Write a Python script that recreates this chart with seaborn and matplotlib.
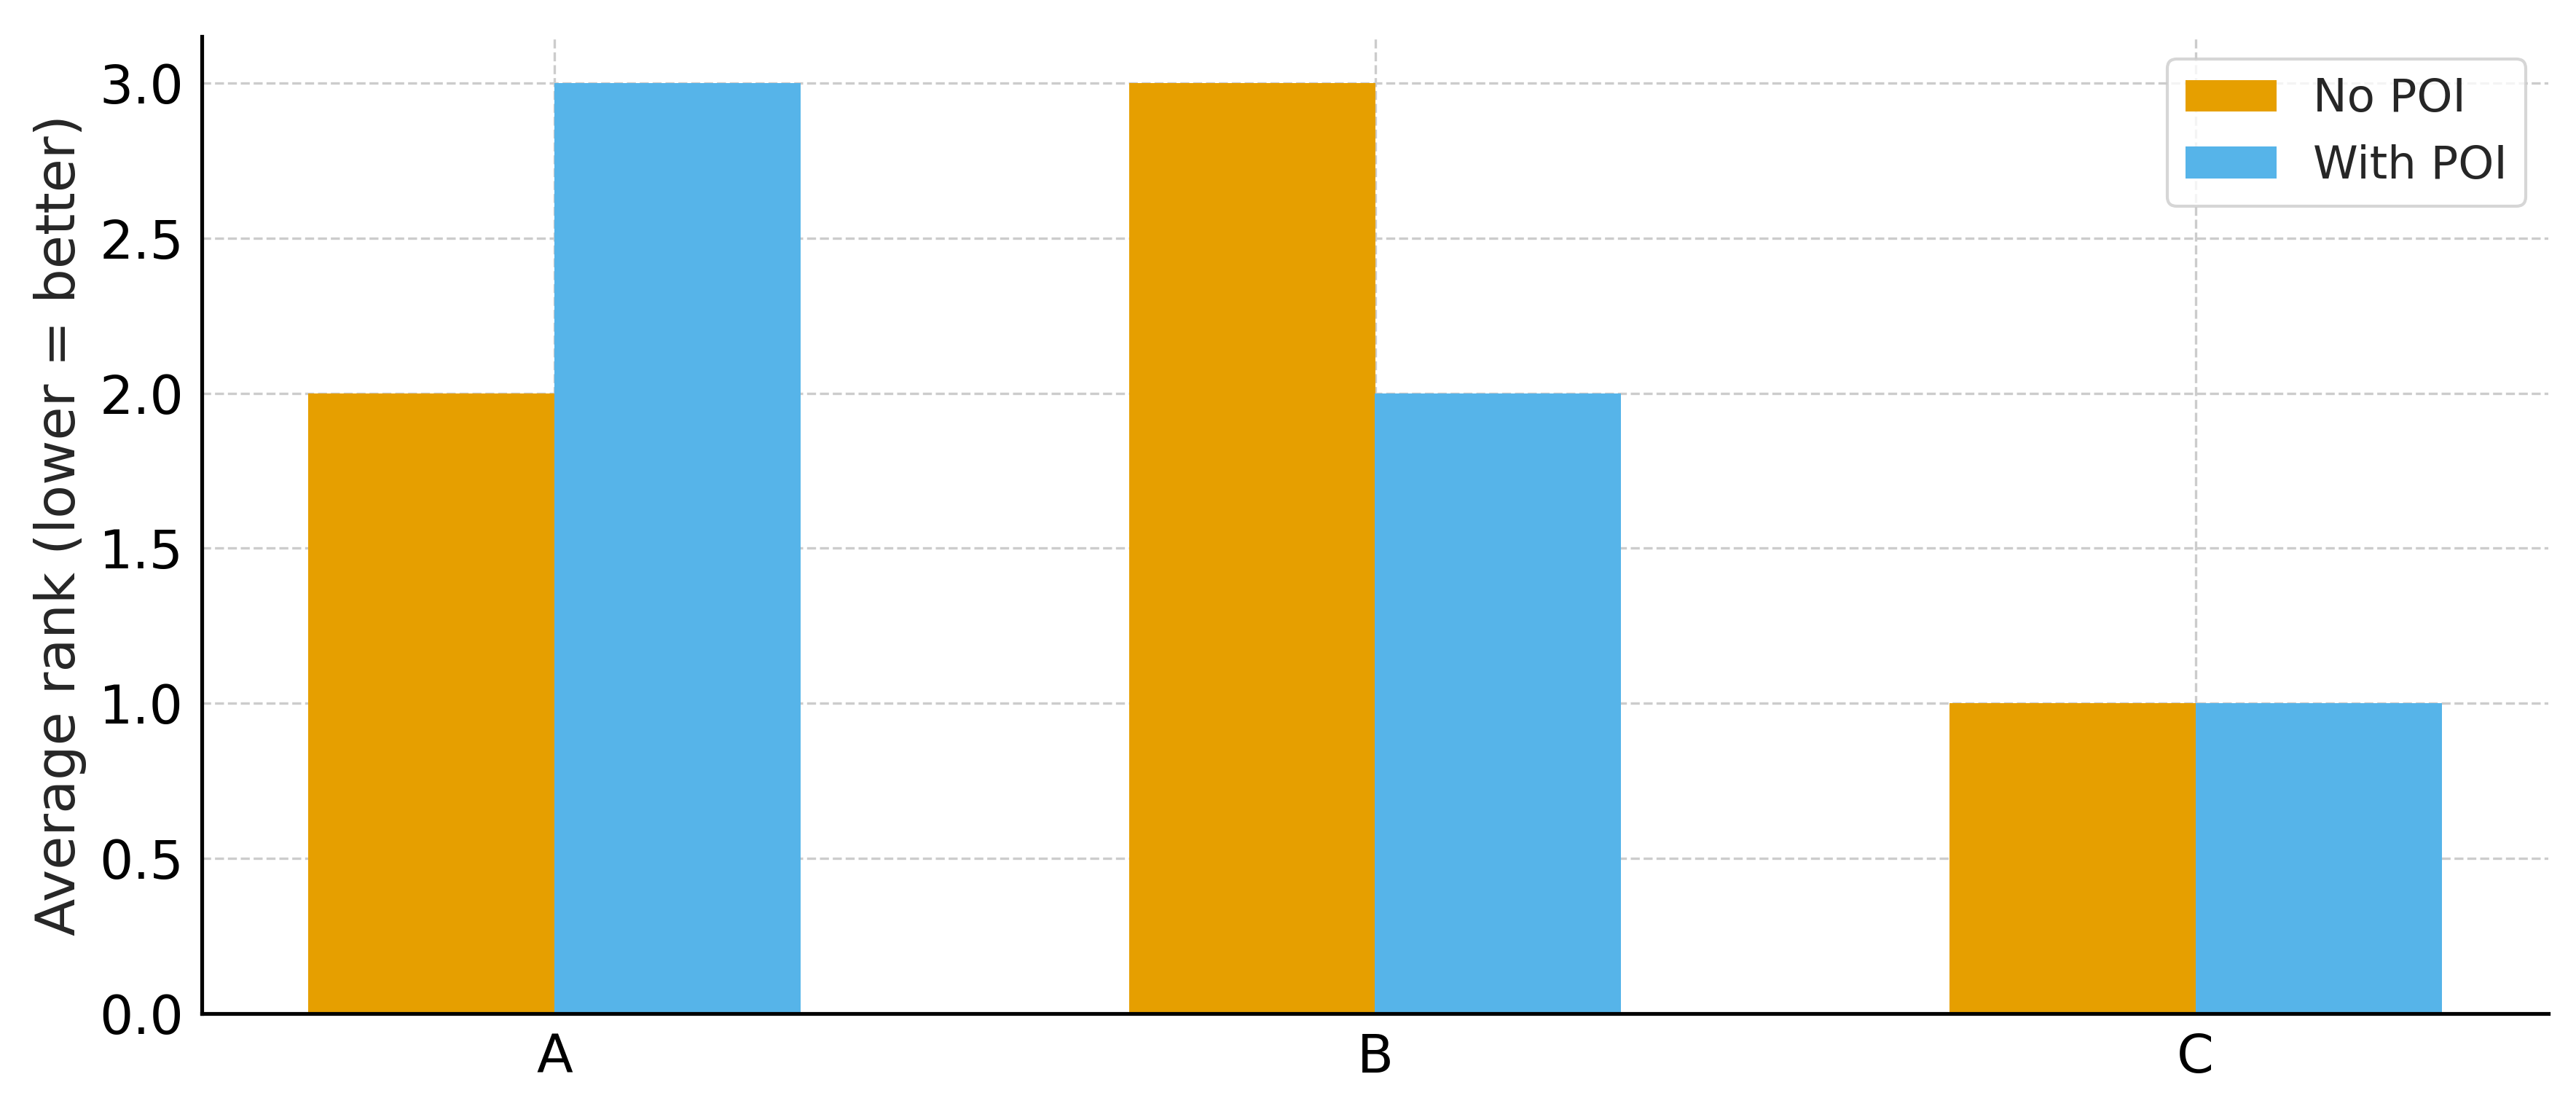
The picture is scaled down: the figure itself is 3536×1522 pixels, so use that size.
import matplotlib
matplotlib.use("Agg")
import matplotlib.pyplot as plt
import seaborn as sns
import pandas as pd

categories = ["A", "B", "C"]
no_poi = [2.0, 3.0, 1.0]
with_poi = [3.0, 2.0, 1.0]
series_names = ["No POI", "With POI"]
colors = ["#E69F00", "#56B4E9"]
yticks = [0.0, 0.5, 1.0, 1.5, 2.0, 2.5, 3.0]

df = pd.DataFrame({
    "category": categories * 2,
    "value": no_poi + with_poi,
    "series": [series_names[0]] * len(categories) + [series_names[1]] * len(categories),
})

sns.set_style("white")
plt.rcParams["font.family"] = ["DejaVu Sans"]

fig = plt.figure(figsize=(3536 / 300, 1522 / 300), dpi=300)
ax = fig.add_axes([277 / 3536, 1 - 1391 / 1522, (3498 - 277) / 3536, (1391 - 50) / 1522])

sns.barplot(data=df, x="category", y="value", hue="series", palette=colors,
            width=0.6, gap=0, saturation=1, ax=ax, errorbar=None,
            edgecolor="none", linewidth=0)

ax.set_xlim(-0.43, 2.43)
ax.set_ylim(0, 3.15)
ax.set_yticks(yticks)
ax.set_yticklabels([f"{v:.1f}" for v in yticks])

ax.set_axisbelow(True)
ax.grid(True, linestyle="--", color="#cccccc", linewidth=0.8)

for s in ["top", "right"]:
    ax.spines[s].set_visible(False)
for s in ["left", "bottom"]:
    ax.spines[s].set_color("black")
    ax.spines[s].set_linewidth(1.25)

ax.tick_params(axis="both", direction="in", length=5, width=1.25, labelsize=17.5,
               colors="black", pad=6)
ax.set_xlabel("")
ax.set_ylabel("Average rank (lower = better)", fontsize=18, labelpad=4)

leg = ax.legend(loc="upper right", fontsize=15, frameon=True, fancybox=True,
                edgecolor="#cccccc", title=None)
leg.get_frame().set_linewidth(1.0)

fig.savefig("out.png", dpi=300)
